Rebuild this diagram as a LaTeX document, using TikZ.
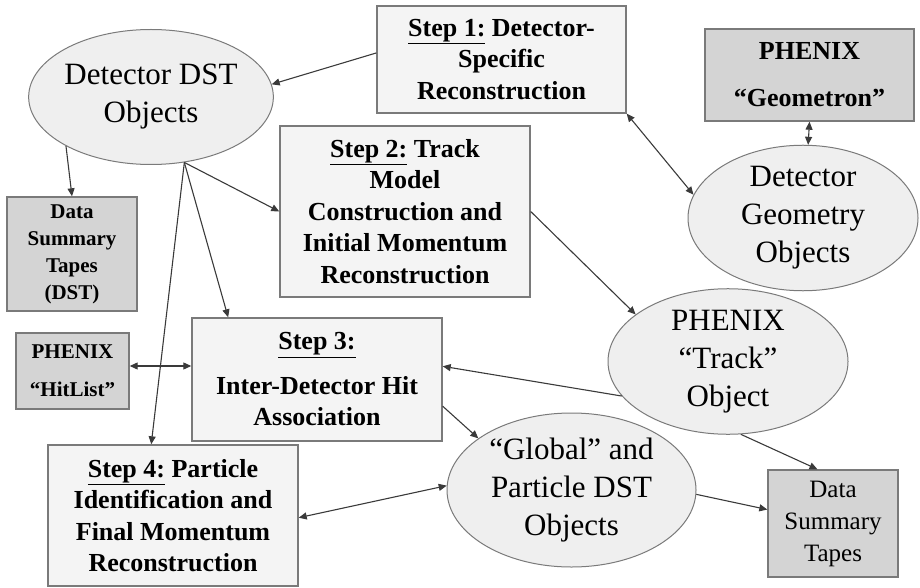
\documentclass[tikz,border=0pt]{standalone}
\usepackage{fontspec}
\setmainfont{Liberation Serif}
\usetikzlibrary{shapes.geometric,arrows.meta}

\definecolor{stepfill}{HTML}{F4F4F4}
\definecolor{ellfill}{HTML}{EFEFEF}
\definecolor{tapefill}{HTML}{D4D4D4}
\definecolor{rimgray}{HTML}{7A7A7A}
\definecolor{wiregray}{HTML}{3A3A3A}

\begin{document}
\begin{tikzpicture}[x=1pt,y=-1pt]
   \tikzset{stepbox/.style 2 args={draw=rimgray, fill=stepfill, line width=1.4pt, inner sep=0pt, align=center,
              minimum width=#1, minimum height=#2, font=\fontsize{26}{31.5}\selectfont\bfseries}};
   \tikzset{tapebox/.style 2 args={draw=rimgray, fill=tapefill, line width=1.4pt, inner sep=0pt, align=center,
              minimum width=#1, minimum height=#2}};
   \tikzset{objell/.style 2 args={ellipse, draw=rimgray, fill=ellfill, line width=1pt, inner sep=0pt, align=center,
              minimum width=#1, minimum height=#2, font=\fontsize{31}{38}\selectfont}};
   \tikzset{wire/.style={draw=wiregray, line width=1.1pt, -{Triangle[length=8pt,width=7pt]}}};
   \tikzset{biwire/.style={draw=wiregray, line width=1.1pt, {Triangle[length=8pt,width=7pt]}-{Triangle[length=8pt,width=7pt]}}};

\useasboundingbox (0,0) rectangle (920,588);

%boxes--------------------------
\node[stepbox={249pt}{107pt}] (step1) at (501.5,59.5) {\underline{Step 1:} Detector-\\Specific\\Reconstruction};
\node[stepbox={250pt}{171pt}] (step2) at (405,211.5) {\underline{Step 2:} Track\\Model\\Construction and\\Initial Momentum\\Reconstruction};
\node[stepbox={250pt}{123pt}] (step3) at (317,379.5) {\underline{Step 3:}\\[13pt]Inter-Detector Hit\\Association};
\node[stepbox={250pt}{141pt}] (step4) at (173,515.5) {\underline{Step 4:} Particle\\Identification and\\Final Momentum\\Reconstruction};

\node[tapebox={209pt}{92pt}, font=\fontsize{26}{31}\selectfont\bfseries] (geom) at (809.5,75) {PHENIX\\[16pt]“Geometron”};
\node[tapebox={130pt}{114pt}, font=\fontsize{21}{27}\selectfont\bfseries] (dstL) at (72,254) {Data\\Summary\\Tapes\\(DST)};
\node[tapebox={113pt}{76pt}, font=\fontsize{21}{26}\selectfont\bfseries] (hitlist) at (72.5,371) {PHENIX\\[12pt]“HitList”};
\node[tapebox={130pt}{107pt}, font=\fontsize{25}{32}\selectfont] (dstR) at (833,523.5) {Data\\Summary\\Tapes};

%ellipses-----------------------
\node[objell={238pt}{135pt}] (detdst) at (151,97) {Detector DST\\Objects};
\node[objell={230pt}{137pt}] (detgeo) at (803,218) {Detector\\Geometry\\Objects};
\node[objell={240pt}{137pt}] (track) at (728,361.5) {PHENIX\\“Track”\\Object};
\node[objell={249pt}{154pt}] (global) at (571.5,490) {“Global” and\\Particle DST\\Objects};

%links--------------------------
\draw[wire] (step1.177) -- (detdst.6);
\draw[wire] (detdst.210) -- (dstL.north);
\draw[wire] (detdst.297) -- (step2.west);
\draw[wire] (detdst.297) -- (step3.145);
\draw[wire] (detdst.297) -- (step4.107);
\draw[biwire] (step1.south east) -- (detgeo.168);
\draw[biwire] (geom.south) -- (detgeo.86);
\draw[wire] (step2.east) -- (track.153);
\draw[biwire] ([yshift=5pt]hitlist.east) -- ([yshift=5pt]hitlist.east -| step3.west);
\draw[wire] (track.198) -- (step3.6);
\draw[wire] (track.280) -- (dstR.106);
\draw[wire] (step3.348) -- (global.151);
\draw[biwire] (step4.359) -- (global.178);
\draw[wire] (global.358) -- (dstR.168);

\end{tikzpicture}
\end{document}
